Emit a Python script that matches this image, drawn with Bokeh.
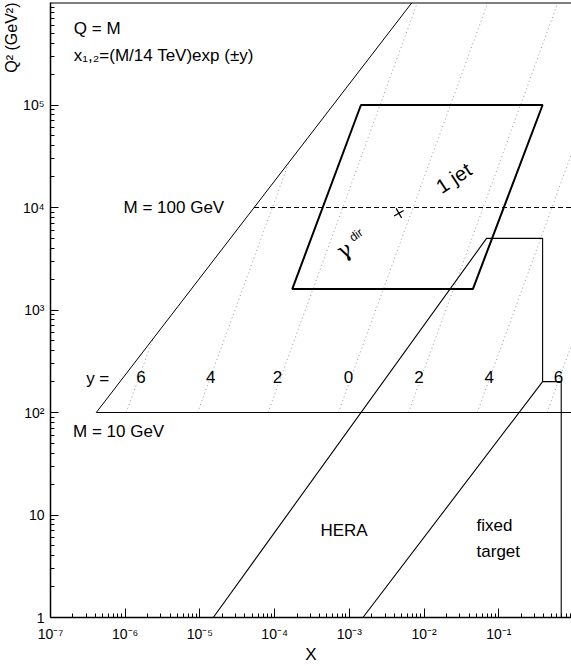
from bokeh.plotting import figure
from bokeh.models import FixedTicker, CustomJSTickFormatter, Range1d, Title, Span
from bokeh.core.properties import value
from bokeh.embed import file_html
from bokeh.resources import INLINE

# ---------------- data ----------------
x_major = [1e-7, 1e-6, 1e-5, 1e-4, 1e-3, 1e-2, 1e-1]
q2_major = [1, 10, 1e2, 1e3, 1e4, 1e5]

# kinematic limit (left diagonal)
limit_x = [4.1e-7, 6.9e-3]
limit_q2 = [1e2, 1e6]

# M = 10 GeV (solid) and M = 100 GeV (dashed)
m10_x = [4.1e-7, 1.0]
m10_q2 = [1e2, 1e2]
m100_x = [5.3e-5, 1.0]
m100_q2 = [1e4, 1e4]

# rapidity lines y = 6, 4, 2, 0, -2, -4, -6 (dotted), start / end points
rap_y = [6, 4, 2, 0, -2, -4, -6]
rap_x0 = [1.03e-6, 9.3e-6, 8.15e-5, 7.13e-4, 6.19e-3, 5.15e-2, 0.442]
rap_q2_0 = [1e2, 1e2, 1e2, 1e2, 1e2, 1e2, 1e2]
rap_x1 = [2.36e-6, 1.55e-4, 8.15e-3, 7.13e-2, 0.619, 1.0, 1.0]
rap_q2_1 = [525, 2.75e4, 1e6, 1e6, 1e6, 3.77e4, 512]

# 1 jet + gamma_dir region
jet_x = [1.72e-4, 4.5e-2, 0.386, 1.43e-3]
jet_q2 = [1.6e3, 1.6e3, 1e5, 1e5]

# HERA region boundary
hera_x = [1.51e-5, 6.86e-2, 0.386, 0.386]
hera_q2 = [1, 5e3, 5e3, 2e2]

# fixed target boundary
fixed_x = [1.52e-3, 0.386, 0.685, 0.685]
fixed_q2 = [1, 2e2, 2e2, 1]

# marked point
cross_x = [4.6e-3]
cross_q2 = [8.8e3]

rap_labels = ["6", "4", "2", "0", "2", "4", "6"]

# ---------------- figure ----------------
FONT = "Liberation Sans"
X_END = 10 ** -0.0267
Y_END = 1e6

p = figure(width=571, height=666, x_axis_type="log", y_axis_type="log",
           x_range=Range1d(1e-7, X_END), y_range=Range1d(1, Y_END),
           output_backend="svg", toolbar_location=None,
           min_border_left=48, min_border_right=0, min_border_top=2,
           min_border_bottom=48)
p.background_fill_color = "white"
p.border_fill_color = "white"
p.outline_line_color = None
p.xgrid.visible = False
p.ygrid.visible = False
p.add_layout(Span(location=Y_END, dimension="width", line_color="black",
                  line_width=2))

x_minor = [m * t for t in x_major for m in range(2, 10)]
q2_minor = [m * t for t in q2_major for m in range(2, 10)]
p.xaxis.ticker = FixedTicker(ticks=x_major, minor_ticks=x_minor)
p.yaxis.ticker = FixedTicker(ticks=q2_major, minor_ticks=q2_minor)

fmt_code = """
const e = Math.round(Math.log10(tick));
if (e == 0) return "1";
if (e == 1) return "10";
const sup = {"-":"\u207b","0":"\u2070","1":"\u00b9","2":"\u00b2","3":"\u00b3",
             "4":"\u2074","5":"\u2075","6":"\u2076","7":"\u2077","8":"\u2078","9":"\u2079"};
return "10" + String(e).split("").map(c => sup[c]).join("");
"""
for ax in (p.xaxis, p.yaxis):
    ax.formatter = CustomJSTickFormatter(code=fmt_code)
    ax.axis_line_color = "black"
    ax.axis_line_width = 1.5
    ax.major_tick_line_color = "black"
    ax.minor_tick_line_color = "black"
    ax.major_tick_out = 0
    ax.minor_tick_out = 0
    ax.minor_tick_in = 4
    ax.major_label_text_font = FONT
    ax.major_label_text_font_size = "14px"
    ax.major_label_text_color = "black"

p.xaxis.major_tick_in = 9
p.yaxis.major_tick_in = 8
p.xaxis.major_label_standoff = 8
p.yaxis.major_label_standoff = 6

p.xaxis.axis_label = "X"
p.xaxis.axis_label_text_font = FONT
p.xaxis.axis_label_text_font_size = "17px"
p.xaxis.axis_label_text_font_style = "normal"
p.xaxis.axis_label_text_color = "black"
p.xaxis.axis_label_standoff = 0

# Q^2 title at the top end of the left side
p.add_layout(Title(text="Q\u00b2 (GeV\u00b2)", align="right", standoff=0,
                   text_font=FONT, text_font_size="16px",
                   text_font_style="normal", text_color="black"), "left")

# ---------------- lines ----------------
p.segment(x0=rap_x0, y0=rap_q2_0, x1=rap_x1, y1=rap_q2_1,
          line_color="#9a9a9a", line_width=1, line_dash="1 3")
p.line(limit_x, limit_q2, line_color="black", line_width=1)
p.line(m10_x, m10_q2, line_color="black", line_width=1.2)
p.line(m100_x, m100_q2, line_color="black", line_width=1, line_dash="5 3")
p.patch(jet_x, jet_q2, fill_color=None, line_color="black", line_width=2)
p.line(hera_x, hera_q2, line_color="black", line_width=1.1)
p.line(fixed_x, fixed_q2, line_color="black", line_width=1.1)
p.scatter(cross_x, cross_q2, marker="cross", size=11, angle=30,
          angle_units="deg", line_color="black", line_width=1.3)

# ---------------- texts ----------------
def txt(x, y, s, size="17px", align="left", angle=0, font=FONT):
    p.text(x=x, y=y, text=s, text_font=value(font), text_font_size=size,
           text_align=align, text_baseline="middle", text_color="black",
           angle=angle, angle_units="deg")

txt([2.05e-7], [5.56e5], ["Q = M"])
txt([2.05e-7], [3.05e5], ["x\u2081,\u2082=(M/14 TeV)exp (\u00b1y)"])
txt([0.95e-6], [1.0e4], ["M = 100 GeV"])
txt([2.0e-7], [65.6], ["M = 10 GeV"])
txt([3.0e-7], [214], ["y ="])
txt([1.62e-6, 1.39e-5, 1.09e-4, 9.7e-4, 8.58e-3, 7.45e-2, 0.631], [224] * 7,
    rap_labels, align="center")
txt([8.5e-4], [7.0], ["HERA"], align="center")
txt([5.04e-2], [7.9], ["fixed"])
txt([5.04e-2], [4.45], ["target"])
txt([2.49e-2], [1.94e4], ["1 jet"], size="20px", align="center", angle=33)
txt([8.5e-4], [3850], ["\u03b3"], size="22px", align="center", angle=30,
    font="DejaVu Serif")
txt([1.23e-3], [5400], ["dir"], size="12px", align="center", angle=35)

open("out.html", "w").write(file_html(p, INLINE))
